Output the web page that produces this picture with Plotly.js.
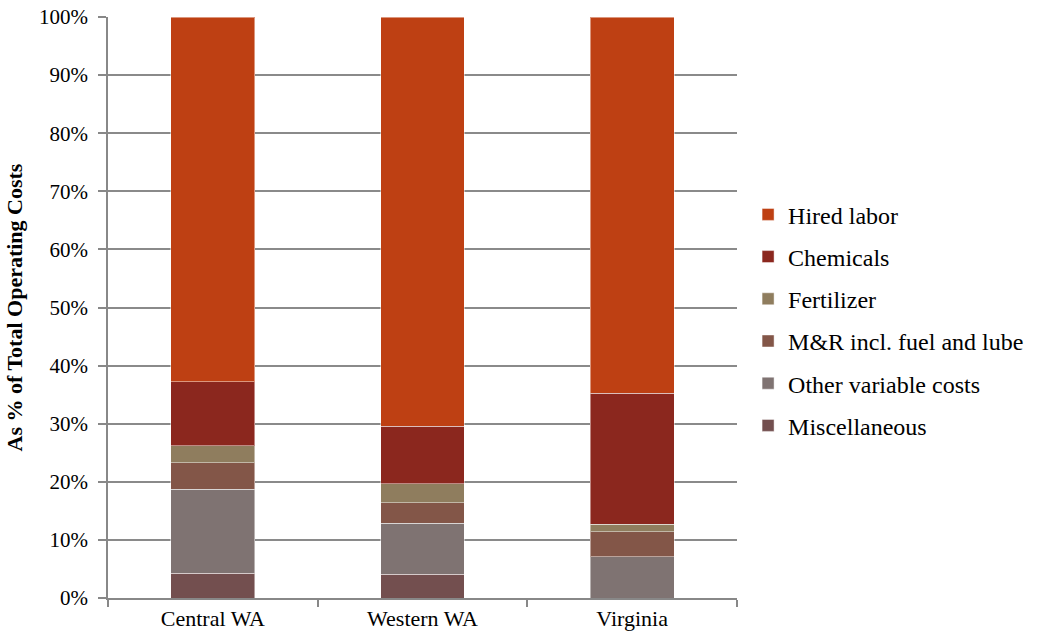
<!DOCTYPE html>
<html>
<head>
<meta charset="utf-8">
<script src="https://cdn.plot.ly/plotly-3.0.1.min.js"></script>
<style>html,body{margin:0;padding:0;background:#fff;}#chart{width:1040px;height:640px;}</style>
</head>
<body>
<div id="chart"></div>
<script>
const categories = ["Central WA", "Western WA", "Virginia"];
const miscellaneous = [4.25, 4.1, 0.0];
const otherVariable = [14.45, 8.75, 7.1];
const mrFuelLube = [4.6, 3.55, 4.3];
const fertilizer = [2.9, 3.3, 1.3];
const chemicals = [11.0, 9.9, 22.5];
const hiredLabor = [62.8, 70.4, 64.8];

const seriesNames = ["Miscellaneous", "Other variable costs", "M&R incl. fuel and lube", "Fertilizer", "Chemicals", "Hired labor"];
const seriesValues = [miscellaneous, otherVariable, mrFuelLube, fertilizer, chemicals, hiredLabor];
const seriesColors = ["#734F4F", "#7F7372", "#835648", "#8F7D5E", "#8B271E", "#BE4013"];

const traces = seriesNames.map((n, i) => ({
  type: "bar",
  name: n,
  x: categories,
  y: seriesValues[i],
  legendgroup: "g" + i,
  legendrank: seriesNames.length - i,
  marker: { color: seriesColors[i], line: { color: "rgba(255,255,255,0.45)", width: 1 } },
  hoverinfo: "name+y"
}));

const font = "Liberation Serif";
const layout = {
  width: 1040, height: 640,
  margin: { l: 108, r: 302, t: 17, b: 42 },
  barmode: "stack",
  bargap: 0.6,
  paper_bgcolor: "#fff", plot_bgcolor: "#fff",
  font: { family: font, color: "#000", size: 20 },
  showlegend: true,
  legend: {
    x: 1.016, y: 0.478, xanchor: "left", yanchor: "middle",
    traceorder: "grouped",
    tracegroupgap: 8,
    font: { family: font, size: 24, color: "#000" },
    itemwidth: 30
  },
  xaxis: {
    type: "category",
    showline: true, linecolor: "#888", linewidth: 1.5,
    ticks: "outside", tickson: "boundaries", ticklen: 7, tickcolor: "#888", tickwidth: 1.5,
    tickfont: { family: font, size: 22, color: "#000" },
    showgrid: false
  },
  yaxis: {
    range: [0, 100],
    tickvals: [0,10,20,30,40,50,60,70,80,90,100],
    ticktext: ["0%","10%","20%","30%","40%","50%","60%","70%","80%","90%","100%"],
    showline: true, linecolor: "#888", linewidth: 1.5,
    ticks: "outside", ticklen: 8, tickcolor: "#888", tickwidth: 1.5,
    ticklabelstandoff: 6,
    showgrid: true, gridcolor: "#8a8a8a", gridwidth: 1.5,
    zeroline: false,
    tickfont: { family: font, size: 21, color: "#000" },
    title: { text: "<b>As % of Total Operating Costs</b>", font: { family: font, size: 22, color: "#000" }, standoff: 10 }
  }
};

Plotly.newPlot("chart", traces, layout, { displayModeBar: false, responsive: false });
</script>
</body>
</html>
